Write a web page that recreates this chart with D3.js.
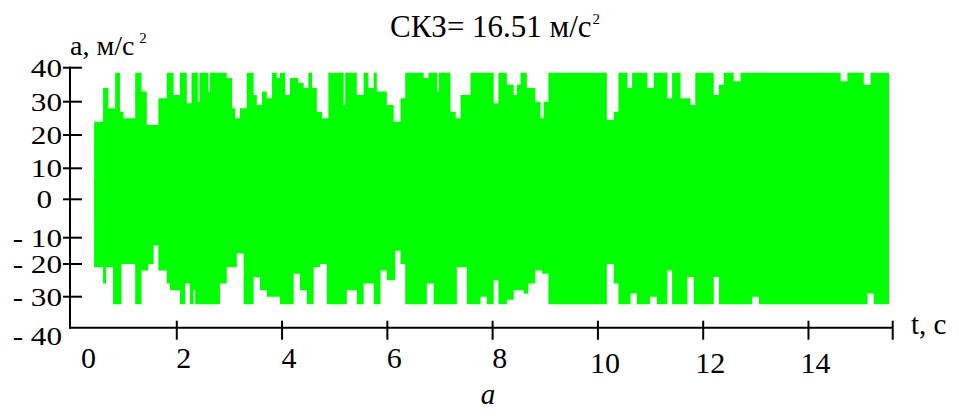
<!DOCTYPE html>
<html>
<head>
<meta charset="utf-8">
<script src="https://cdn.jsdelivr.net/npm/d3@7"></script>
<style>
  html, body { margin: 0; padding: 0; background: #fff; }
  svg { display: block; }
</style>
</head>
<body>
<svg id="chart" width="959" height="418"></svg>
<script>
// ---- data (step envelope of the dense signal) ----
const upperT = [0.43,0.60,0.70,0.83,0.92,0.99,1.21,1.33,1.43,1.65,1.81,1.94,2.06,2.19,2.28,2.40,2.43,2.60,2.63,2.95,3.05,3.11,3.20,3.33,3.46,3.52,3.62,3.71,3.81,3.90,3.96,4.06,4.15,4.31,4.41,4.50,4.57,4.66,4.76,4.88,5.17,5.20,5.42,5.55,5.64,5.74,5.80,5.99,6.12,6.25,6.34,6.69,6.78,6.95,6.98,7.20,7.30,7.39,7.58,8.02,8.11,8.27,8.40,8.46,8.53,8.65,8.81,8.91,8.97,9.06,10.17,10.30,10.39,10.56,10.65,10.94,11.06,11.32,11.41,11.57,11.76,11.85,12.20,12.30,12.39,12.58,12.71,14.61,14.74,15.05,15.18,15.53];
const upperV = [24,34,28,38.5,27,25,38.5,33,23,31,38.5,32,38.5,29.5,38.5,30,38.5,33,38.5,37,28,25,28,38.5,32,29,33,31,38.5,37,38.5,32,37,35.5,34,38.5,34,27,25,38.5,29,38.5,32,38.5,34,38.5,33,29,24,31,38.5,37,38.5,33,38.5,27,25,32,38.5,29.5,38.5,35,32,35,38.5,34,30,25,30,38.5,24.5,27,38.5,34,38.5,34,38.5,31,38.5,31,29,38.5,32,35,38.5,36,38.5,36,38.5,35,38.5,38.5];

const lowerT = [0.43,0.60,0.66,0.79,0.95,1.21,1.33,1.46,1.56,1.65,1.81,1.87,2.06,2.16,2.25,2.32,2.35,2.82,2.95,3.14,3.27,3.46,3.58,3.71,3.96,4.22,4.34,4.47,4.60,4.72,4.85,5.23,5.42,5.55,5.74,5.87,5.99,6.15,6.25,6.34,6.75,6.88,7.32,7.51,7.77,7.89,8.02,8.11,8.27,8.40,8.59,8.68,8.81,8.94,9.06,10.17,10.30,10.39,10.62,10.74,10.99,11.12,11.32,11.41,11.70,11.82,12.20,12.30,12.93,13.06,15.12,15.24,15.53];
const lowerV = [-21,-26,-21,-32.4,-20,-32.4,-22,-20,-13,-22,-26,-28,-32.4,-26,-32.4,-28,-32.4,-26,-21,-16,-32.4,-24,-28,-30,-32.4,-23,-28,-32.4,-21,-20,-32.4,-28,-32.4,-26,-32.4,-22,-25,-15,-20,-32.4,-26,-32.4,-21,-32.4,-30,-32.4,-25,-32.4,-31,-28,-29,-26,-22,-23,-32.4,-20,-26,-32.4,-29,-32.4,-30,-32.4,-22,-32.4,-24,-32.4,-24,-32.4,-30,-32.4,-29,-32.4,-32.4];

const xTicks = [2,4,6,8,10,12,14];
const xTickLabels = ["0","2","4","6","8","10","12","14"];
const xLabelValues = [0,2,4,6,8,10,12,14];
const yTicks = [-40,-30,-20,-10,0,10,20,30,40];
const yTickLabels = ["- 40","- 30","- 20","- 10","0","10","20","30","40"];
const titleText = "СКЗ= 16.51 м/с";
const yAxisTitle = "a, м/с";
const xAxisTitle = "t, c";
const caption = "a";

const FONT = "'Liberation Serif', Tinos, 'Times New Roman', Times, 'DejaVu Serif', serif";

// ---- scales ----
const svg = d3.select("#chart").attr("font-family", FONT);
const x = d3.scaleLinear().domain([0, 15.6]).range([71.5, 892.7]);
// tick spacing in the source picture is slightly uneven; follow it
const y = d3.scaleLinear()
  .domain([-40,-30,-20,-10,0,10,20,30,40])
  .range([327.7,296.7,264,237.7,199.3,168.3,135,101.7,67.7]);

const green = "#00ff00";
const upper = upperT.map((t,i)=>({t, v: upperV[i]}));
const lower = lowerT.map((t,i)=>({t, v: lowerV[i]}));

const upArea = d3.area().curve(d3.curveStepAfter)
  .x(d=>x(d.t)).y0(y(-6)).y1(d=>y(d.v));
const loArea = d3.area().curve(d3.curveStepAfter)
  .x(d=>x(d.t)).y0(y(6)).y1(d=>y(d.v));

svg.append("path").datum(upper).attr("d", upArea).attr("fill", green);
svg.append("path").datum(lower).attr("d", loArea).attr("fill", green);

// ---- axes ----
const axisG = svg.append("g").attr("stroke", "#000").attr("stroke-width", 2);
axisG.append("line").attr("x1", 70).attr("x2", 70).attr("y1", y(40)-1).attr("y2", y(-40)+1);
axisG.append("line").attr("x1", 69).attr("x2", x(15.6)).attr("y1", y(-40)).attr("y2", y(-40));

axisG.selectAll("line.yt").data(yTicks.filter(d=>d>-40)).enter().append("line")
  .attr("class","yt").attr("x1", 63).attr("x2", 82)
  .attr("y1", d=>y(d)).attr("y2", d=>y(d));
axisG.selectAll("line.xt").data(xTicks.concat([15.6])).enter().append("line")
  .attr("class","xt").attr("x1", d=>x(d)).attr("x2", d=>x(d))
  .attr("y1", y(-40)-7).attr("y2", y(-40)+12);

// y tick labels (source glyphs are horizontally wide)
svg.selectAll("text.yl").data(yTicks).enter().append("text")
  .attr("class","yl")
  .attr("transform", d=>`translate(${d===0 ? 52 : 62},${y(d) + (d===-40 ? 8 : 0)}) scale(1.2,1)`)
  .attr("text-anchor","end").attr("dominant-baseline","central")
  .attr("font-size", 26)
  .text((d,i)=>yTickLabels[i]);

// x tick labels
svg.selectAll("text.xl").data(xLabelValues).enter().append("text")
  .attr("class","xl")
  .attr("x", d=>x(d) + (d===0 ? 17 : 7))
  .attr("y", d=> d>=10 ? 373 : 368)
  .attr("text-anchor","middle")
  .attr("font-size", 30)
  .text((d,i)=>xTickLabels[i]);

// titles
const t1 = svg.append("text").attr("x", 390).attr("y", 37).attr("font-size", 31);
t1.append("tspan").text(titleText);
t1.append("tspan").attr("font-size", 15).attr("dy", -13).attr("dx", 1).text("2");

const t2 = svg.append("text").attr("x", 70).attr("y", 55).attr("font-size", 28);
t2.append("tspan").text(yAxisTitle);
t2.append("tspan").attr("font-size", 15).attr("dy", -12).attr("dx", 5).text("2");

svg.append("text").attr("x", 911).attr("y", 334).attr("font-size", 29).text(xAxisTitle);
svg.append("text").attr("x", 488).attr("y", 404).attr("font-size", 29)
  .attr("font-style","italic").attr("text-anchor","middle").text(caption);
</script>
</body>
</html>
